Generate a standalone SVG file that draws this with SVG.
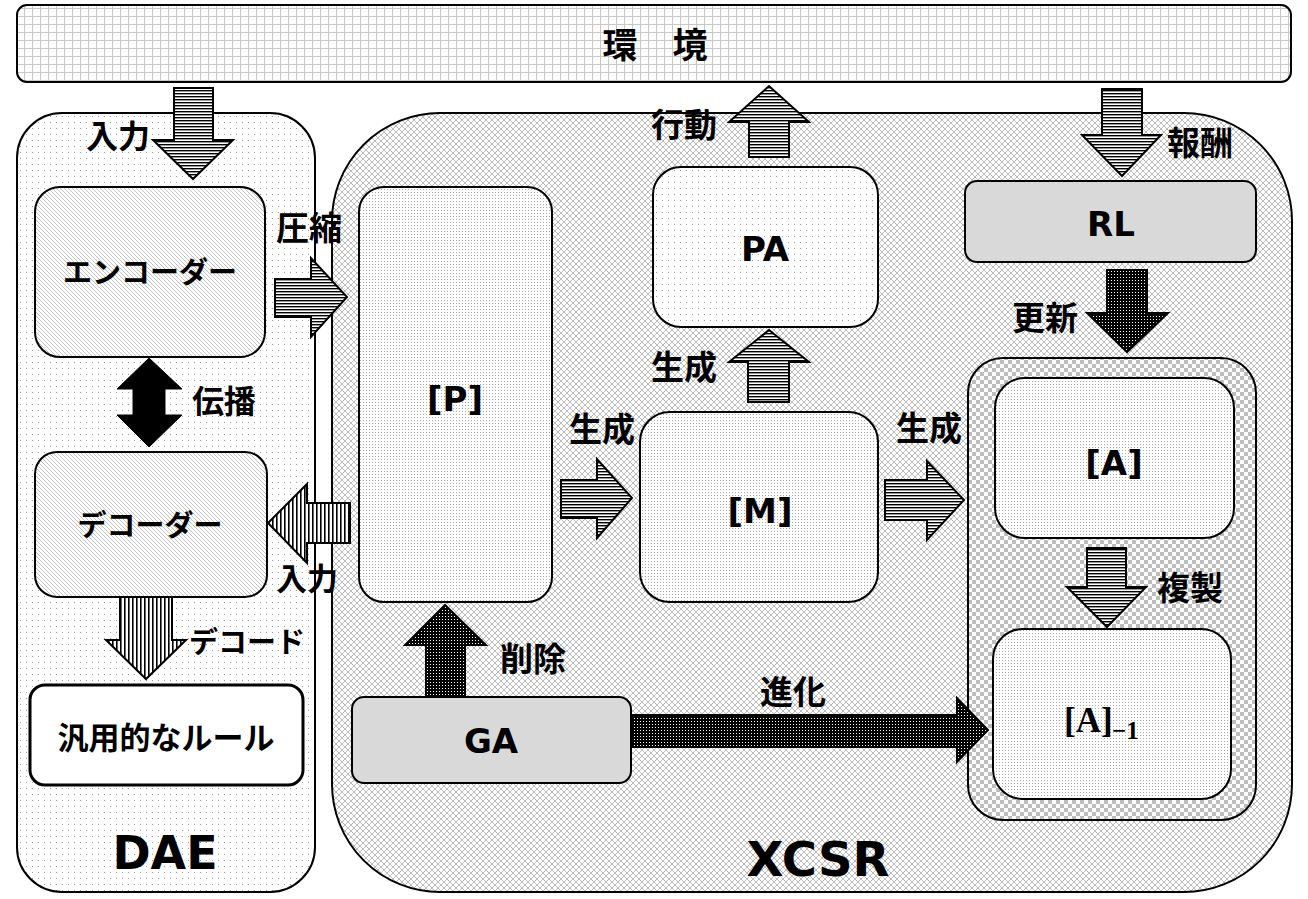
<svg xmlns="http://www.w3.org/2000/svg" width="1308" height="899" viewBox="0 0 1308 899">
<style>
.jp{font-family:'Noto Sans CJK JP','Noto Sans CJK SC',sans-serif;font-weight:700;text-anchor:middle;fill:#000}
.lt{font-family:'DejaVu Sans','Noto Sans',sans-serif;font-weight:700;text-anchor:middle;fill:#000}
.box{stroke:#000;stroke-width:2}
.arr{stroke:#000;stroke-width:2;stroke-linejoin:miter}
</style>
<defs>
<pattern id="grid" width="8" height="8" patternUnits="userSpaceOnUse"><rect width="8" height="8" fill="#fff"/><path d="M0 0.5H8M0.5 0V8" stroke="#c8c8c8" stroke-width="1"/></pattern>
<pattern id="dots" width="6" height="6" patternUnits="userSpaceOnUse"><rect width="6" height="6" fill="#fff"/><rect x="2" y="2" width="1" height="1" fill="#9a9a9a"/></pattern>
<pattern id="xhatch" width="6" height="6" patternUnits="userSpaceOnUse"><rect width="6" height="6" fill="#fff"/><path d="M0 0L6 6M6 0L0 6" stroke="#aaa" stroke-width="0.8"/></pattern>
<pattern id="diag" width="4" height="4" patternUnits="userSpaceOnUse"><rect width="4" height="4" fill="#fff"/><path d="M0 0L4 4M-1 3L1 5M3 -1L5 1" stroke="#a8a8a8" stroke-width="0.7"/></pattern>
<pattern id="fine" width="3" height="3" patternUnits="userSpaceOnUse"><rect width="3" height="3" fill="#fff"/><rect width="1" height="1" fill="#a8a8a8"/></pattern>
<pattern id="checker" width="8" height="8" patternUnits="userSpaceOnUse"><rect width="8" height="8" fill="#fff"/><rect width="4" height="4" fill="#bdbdbd"/><rect x="4" y="4" width="4" height="4" fill="#bdbdbd"/></pattern>
<pattern id="hstripe" width="4" height="3" patternUnits="userSpaceOnUse"><rect width="4" height="3" fill="#fff"/><rect width="4" height="1.4" fill="#000"/></pattern>
<pattern id="vstripe" width="4" height="4" patternUnits="userSpaceOnUse"><rect width="4" height="4" fill="#fff"/><rect width="1.6" height="4" fill="#000"/></pattern>
<pattern id="bdot" width="3" height="3" patternUnits="userSpaceOnUse"><rect width="3" height="3" fill="#000"/><rect x="1" y="1" width="1" height="1" fill="#fff"/></pattern>
</defs>

<g id="env">
<rect class="box" x="17" y="5" width="1274" height="77" rx="10" fill="url(#grid)"/>
<text class="jp" x="655" y="58" font-size="35">環　境</text>
</g>

<g id="dae">
<rect class="box" x="17" y="113" width="298" height="779" rx="45" fill="url(#dots)"/>
<text class="lt" x="165" y="869" font-size="46">DAE</text>
</g>

<g id="xcsr">
<rect class="box" x="332" y="113" width="960" height="779" rx="108" fill="url(#xhatch)"/>
<text class="lt" x="818" y="876" font-size="48">XCSR</text>
</g>

<g id="encoder">
<rect class="box" x="35" y="187" width="230" height="170" rx="25" fill="url(#diag)"/>
<text class="jp" x="150" y="283" font-size="29">エンコーダー</text>
</g>

<g id="decoder">
<rect class="box" x="35" y="452" width="232" height="145" rx="22" fill="url(#diag)"/>
<text class="jp" x="150" y="536" font-size="29">デコーダー</text>
</g>

<g id="rules">
<rect x="30" y="685" width="273" height="100" rx="15" fill="#fff" stroke="#000" stroke-width="3"/>
<text class="jp" x="166" y="749" font-size="31">汎用的なルール</text>
</g>

<g id="P">
<rect class="box" x="359" y="187" width="193" height="415" rx="25" fill="url(#fine)"/>
<text class="lt" x="455" y="411" font-size="34">[P]</text>
</g>

<g id="PA">
<rect class="box" x="653" y="167" width="225" height="160" rx="28" fill="url(#dots)"/>
<text class="lt" x="765" y="261" font-size="34">PA</text>
</g>

<g id="M">
<rect class="box" x="640" y="412" width="238" height="190" rx="30" fill="url(#fine)"/>
<text class="lt" x="760" y="523" font-size="34">[M]</text>
</g>

<g id="RL">
<rect class="box" x="965" y="181" width="291" height="81" rx="12" fill="#d9d9d9"/>
<text class="lt" x="1111" y="236" font-size="34">RL</text>
</g>

<g id="Agroup">
<rect class="box" x="968" y="358" width="288" height="462" rx="35" fill="url(#checker)"/>
</g>

<g id="A">
<rect class="box" x="995" y="378" width="239" height="160" rx="30" fill="url(#fine)"/>
<text class="lt" x="1114" y="475" font-size="34">[A]</text>
</g>

<g id="A1">
<rect class="box" x="993" y="629" width="238" height="170" rx="30" fill="url(#fine)"/>
<text x="1064" y="732" font-family="'Liberation Serif','DejaVu Serif',serif" font-weight="700" font-size="35">[A]<tspan x="1112" y="739" font-size="25">−1</tspan></text>
</g>

<g id="GA">
<rect class="box" x="352" y="697" width="279" height="86" rx="12" fill="#d9d9d9"/>
<text class="lt" x="491" y="753" font-size="34">GA</text>
</g>

<g id="connectors">
<polygon class="arr" fill="url(#hstripe)" points="174,88 213,88 213,140 233,140 193,179 153,140 174,140"/>
<text class="jp" x="118" y="148" font-size="32">入力</text>

<polygon fill="#000" stroke="#000" stroke-width="1" points="149,358 182,389 165,389 165,415 182,415 149,447 117,415 133,415 133,389 117,389"/>
<text class="jp" x="224" y="413" font-size="32">伝播</text>

<polygon class="arr" fill="url(#vstripe)" points="120,597 172,597 172,640 186,640 146,679 106,640 120,640"/>
<text class="jp" x="247" y="653" font-size="29">デコード</text>

<polygon class="arr" fill="url(#hstripe)" points="275,279 311,279 311,258 347,297 311,337 311,317 275,317"/>
<text class="jp" x="309" y="240" font-size="33">圧縮</text>

<polygon class="arr" fill="url(#vstripe)" points="350,503 307,503 307,484 268,523 307,563 307,543 350,543"/>
<text class="jp" x="307" y="590" font-size="31">入力</text>

<polygon class="arr" fill="url(#hstripe)" points="749,157 789,157 789,122 809,122 769,86 729,122 749,122"/>
<text class="jp" x="684" y="137" font-size="33">行動</text>

<polygon class="arr" fill="url(#hstripe)" points="748,402 789,402 789,362 809,362 769,330 729,362 748,362"/>
<text class="jp" x="684" y="379" font-size="33">生成</text>

<polygon class="arr" fill="url(#hstripe)" points="561,480 597,480 597,459 632,498 597,538 597,518 561,518"/>
<text class="jp" x="602" y="441" font-size="33">生成</text>

<polygon class="arr" fill="url(#hstripe)" points="885,480 927,480 927,461 964,500 927,540 927,520 885,520"/>
<text class="jp" x="929" y="440" font-size="33">生成</text>

<polygon class="arr" fill="url(#hstripe)" points="1102,89 1142,89 1142,135 1161,135 1122,176 1082,135 1102,135"/>
<text class="jp" x="1200" y="155" font-size="33">報酬</text>

<polygon class="arr" fill="url(#bdot)" points="1107,270 1147,270 1147,313 1168,313 1127,352 1087,313 1107,313"/>
<text class="jp" x="1045" y="330" font-size="33">更新</text>

<polygon class="arr" fill="url(#hstripe)" points="1087,548 1126,548 1126,587 1146,587 1107,627 1067,587 1087,587"/>
<text class="jp" x="1190" y="600" font-size="33">複製</text>

<polygon class="arr" fill="url(#bdot)" points="426,697 465,697 465,645 486,645 445,605 405,645 426,645"/>
<text class="jp" x="533" y="671" font-size="33">削除</text>

<polygon class="arr" fill="url(#bdot)" points="631,715 957,715 957,698 988,730 957,762 957,747 631,747"/>
<text class="jp" x="793" y="704" font-size="33">進化</text>
</g>
</svg>
